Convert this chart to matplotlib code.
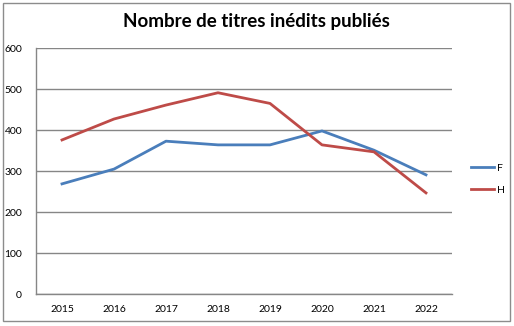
import matplotlib
matplotlib.use("Agg")
import matplotlib.pyplot as plt
from matplotlib.patches import Rectangle

years = ["2015", "2016", "2017", "2018", "2019", "2020", "2021", "2022"]
f_values = [269, 305, 373, 364, 364, 398, 351, 291]
h_values = [376, 427, 461, 491, 465, 364, 347, 247]
yticks = [0, 100, 200, 300, 400, 500, 600]

W, H = 514, 326
fig = plt.figure(figsize=(W / 100, H / 100), dpi=100)
fig.patch.set_facecolor("white")

# outer chart border
fig.patches.append(Rectangle((2.5 / W, 1 - 321 / H), (510 - 2.5) / W, (321 - 2.5) / H,
                             transform=fig.transFigure, fill=False,
                             edgecolor="#8c8c8c", linewidth=1.0))

left, right, top, bottom = 36, 452, 48, 294.3
ax = fig.add_axes([left / W, 1 - bottom / H, (right - left) / W, (bottom - top) / H])

x = list(range(len(years)))
ax.plot(x, f_values, color="#4A7EBB", linewidth=2, label="F", zorder=3)
ax.plot(x, h_values, color="#BE4B48", linewidth=2, label="H", zorder=3)

ax.set_xlim(-0.5, len(years) - 0.5)
ax.set_ylim(0, 600)
ax.set_yticks(yticks)
ax.set_xticks(x)
ax.set_xticklabels(years)
ax.yaxis.grid(True, color="#868686", linewidth=1.0)
ax.set_axisbelow(True)
for s in ["top", "right"]:
    ax.spines[s].set_visible(False)
for s in ["left", "bottom"]:
    ax.spines[s].set_color("#868686")
    ax.spines[s].set_linewidth(1.0)
ax.tick_params(axis="both", length=0, labelsize=7.5, colors="black")
ax.tick_params(axis="y", pad=10)
ax.tick_params(axis="x", pad=8)
for lbl in ax.get_xticklabels() + ax.get_yticklabels():
    lbl.set_family("Lato")

fig.text(256 / W, 1 - 22 / H, "Nombre de titres inédits publiés", ha="center", va="center",
         fontsize=13.5, fontweight="bold", family="Lato")

leg = ax.legend(loc="center left", bbox_to_anchor=(462 / W, 1 - 179 / H),
                bbox_transform=fig.transFigure, frameon=False,
                handlelength=2.2, handletextpad=0.3, labelspacing=1.2,
                prop={"family": "Lato", "size": 7.5})

fig.savefig("out.png", dpi=100, facecolor="white")
